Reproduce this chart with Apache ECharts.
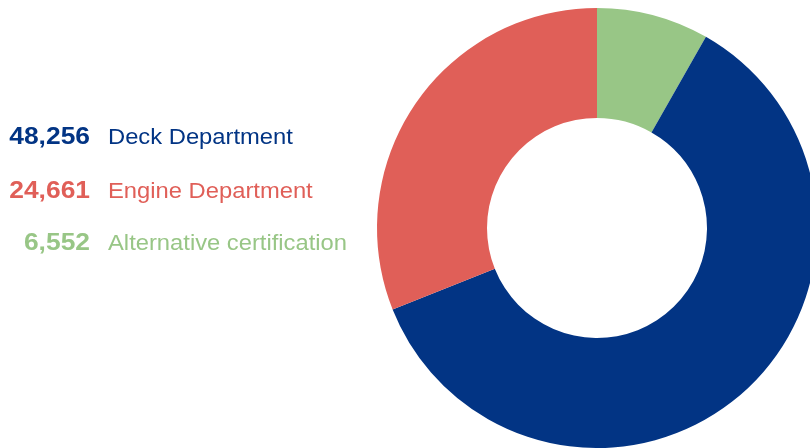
<!DOCTYPE html>
<html>
<head>
<meta charset="utf-8">
<script src="https://cdn.jsdelivr.net/npm/echarts@6/dist/echarts.min.js"></script>
<style>
  html, body { margin: 0; padding: 0; background: #ffffff; }
  #chart { width: 810px; height: 448px; }
</style>
</head>
<body>
<div id="chart"></div>
<script>
// Seafarer certificates by department
const departments = ['Alternative certification', 'Deck Department', 'Engine Department'];
const counts = [6552, 48256, 24661];
const colors = ['#98C686', '#023484', '#E05F58'];
// Order in which the key lists the departments
const keyOrder = ['Deck Department', 'Engine Department', 'Alternative certification'];

const fmt = v => v.toLocaleString('en-US');
const FONT = '"Liberation Sans", Arial, sans-serif';

// Key layout: baseline of each row, right edge of the counts, left edge of the names
const rowBaselines = [145, 198.5, 250.5];
const countRight = 90;
const nameLeft = 108;
// distance from the em-box middle up from the baseline, as a share of the font size
const MID = 0.31;

const keyElements = [];
keyOrder.forEach((name, r) => {
  const i = departments.indexOf(name);
  const base = rowBaselines[r];
  keyElements.push({
    type: 'text',
    x: countRight,
    y: base - MID * 24,
    scaleX: 1.1,
    style: {
      text: fmt(counts[i]),
      fill: colors[i],
      font: 'bold 24px ' + FONT,
      align: 'right',
      verticalAlign: 'middle'
    }
  });
  keyElements.push({
    type: 'text',
    x: nameLeft,
    y: base - MID * 22,
    scaleX: 1.08,
    style: {
      text: name,
      fill: colors[i],
      font: '22px ' + FONT,
      align: 'left',
      verticalAlign: 'middle'
    }
  });
});

const chart = echarts.init(document.getElementById('chart'), null, { renderer: 'canvas' });
chart.setOption({
  animation: false,
  backgroundColor: '#ffffff',
  graphic: keyElements,
  series: [{
    type: 'pie',
    center: [597, 228],
    radius: [110, 220],
    startAngle: 90,
    clockwise: true,
    avoidLabelOverlap: false,
    label: { show: false },
    labelLine: { show: false },
    emphasis: { disabled: true },
    itemStyle: { borderWidth: 0 },
    data: departments.map((name, i) => ({
      name,
      value: counts[i],
      itemStyle: { color: colors[i] }
    }))
  }]
});
</script>
</body>
</html>
